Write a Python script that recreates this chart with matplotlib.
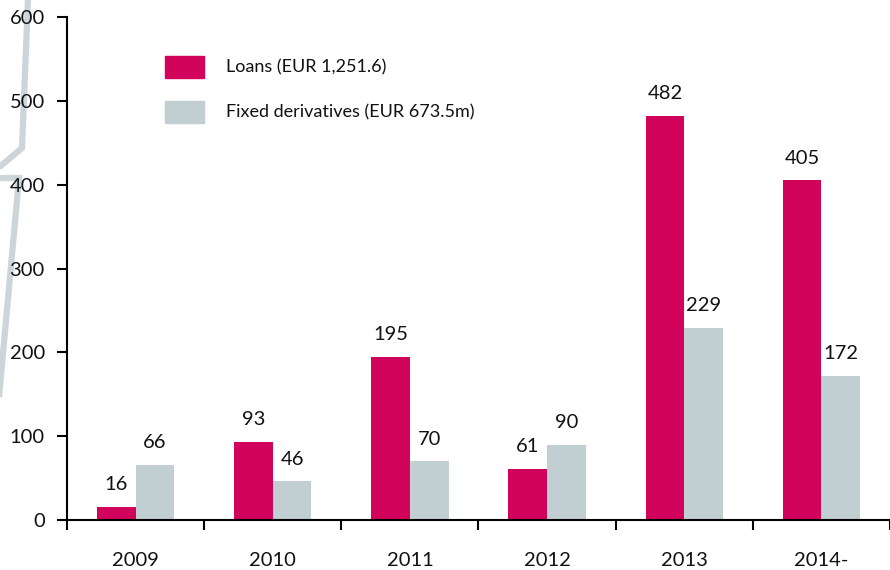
import matplotlib.pyplot as plt
from matplotlib.lines import Line2D
from matplotlib.patches import Rectangle
import numpy as np

plt.rcParams['font.family'] = ['Lato', 'DejaVu Sans']

years = ['2009', '2010', '2011', '2012', '2013', '2014-']
loans = [16, 93, 195, 61, 482, 405]
derivatives = [66, 46, 70, 90, 229, 172]
legend_labels = ['Loans (EUR 1,251.6)', 'Fixed derivatives (EUR 673.5m)']

pink = '#d1035b'
grey = '#c1ced2'

W, H = 890, 570
fig = plt.figure(figsize=(W / 100, H / 100), dpi=100)
ax = fig.add_axes([67 / W, 50 / H, 1 - 67 / W, 503 / H])

# background decoration line on the left
deco = dict(color='#ccd6da', lw=4.5, solid_capstyle='butt', solid_joinstyle='miter', zorder=0)
fig.add_artist(Line2D([28 / W, 22 / W, -0.01], [1 + 2 / H, 1 - 148 / H, 1 - 174 / H], **deco))
fig.add_artist(Line2D([-0.01, 19 / W, -4 / W], [1 - 178 / H, 1 - 178 / H, 1 - 430 / H], **deco))

x = np.arange(len(years))
bw = 0.282
b1 = ax.bar(x - bw / 2, loans, bw, color=pink, zorder=2)
b2 = ax.bar(x + bw / 2, derivatives, bw, color=grey, zorder=2)

for bars, vals in ((b1, loans), (b2, derivatives)):
    for rect, v in zip(bars, vals):
        ax.annotate(str(v), (rect.get_x() + rect.get_width() / 2, v),
                    xytext=(0, 12), textcoords='offset points',
                    ha='center', va='baseline', fontsize=14.5, color='#111111')

ax.set_ylim(0, 600)
ax.set_xlim(-0.5, -0.5 + (W - 67) / 138.3)
ax.set_yticks(range(0, 601, 100))
ax.set_xticks(x)
ax.set_xticklabels(years)
ax.set_xticks(np.arange(-0.5, 6, 1.0), minor=True)
ax.tick_params(axis='x', which='major', length=0, pad=23, labelsize=14.5, labelcolor='#111111')
ax.tick_params(axis='x', which='minor', length=7, width=1.5, direction='out')
ax.tick_params(axis='y', length=7, width=1.5, pad=9, labelsize=14.5, labelcolor='#111111')

for s in ('top', 'right'):
    ax.spines[s].set_visible(False)
for s in ('left', 'bottom'):
    ax.spines[s].set_linewidth(1.5)
ax.patch.set_alpha(0)

# legend
for i, (lab, col) in enumerate(zip(legend_labels, (pink, grey))):
    top = 56 + 45 * i
    fig.add_artist(Rectangle((165 / W, 1 - (top + 22) / H), 39 / W, 22 / H,
                             transform=fig.transFigure, color=col))
    fig.text(226 / W, 1 - (top + 11) / H, lab, va='center', ha='left',
             fontsize=13, color='#111111')

fig.savefig('out.png', dpi=100)
